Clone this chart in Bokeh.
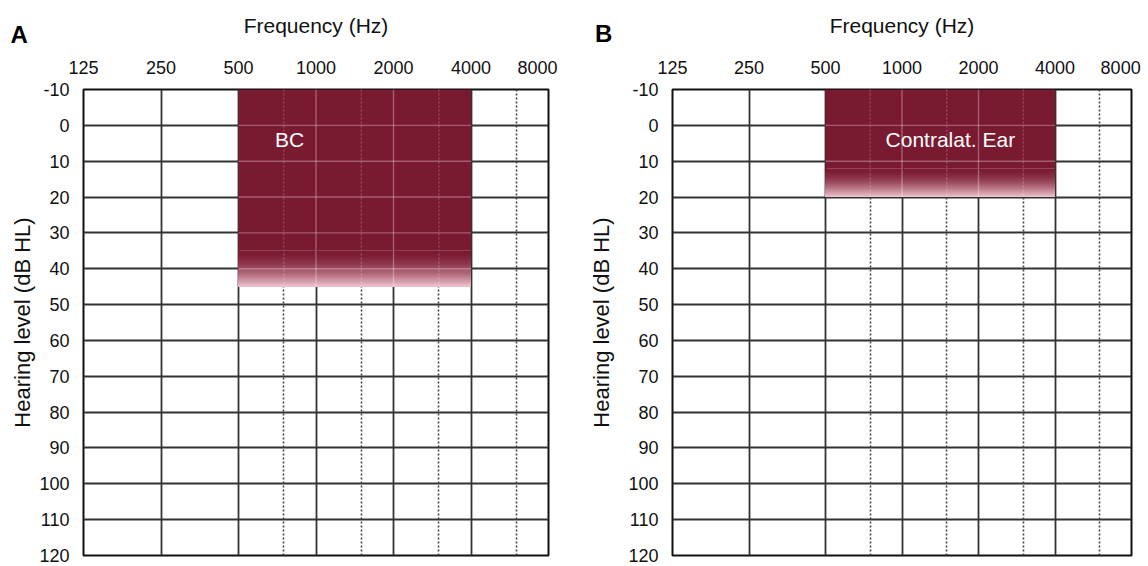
import numpy as np
from bokeh.plotting import figure
from bokeh.layouts import row
from bokeh.models import Range1d, FixedTicker, Grid, Label
from bokeh.embed import file_html
from bokeh.resources import INLINE

# ---- data ----
freqs = [125, 250, 500, 1000, 2000, 4000, 8000]
freq_labels = ["125", "250", "500", "1000", "2000", "4000", "8000"]
label_pos = [125, 250, 500, 1000, 2000, 4000, 7250]   # 8000 label nudged inside
half_octaves = [750, 1500, 3000, 6000]
levels = [-10, 0, 10, 20, 30, 40, 50, 60, 70, 80, 90, 100, 110, 120]
level_labels = ["-10", "0", "10", "20", "30", "40", "50", "60", "70", "80",
                "90", "100", "110", "120"]

panels = ["A", "B"]
letter_freq = [65, 62]
letter_level = [-25.3, -25.6]
box_low = [500, 500]
box_high = [4000, 4000]
box_top = [-10, -10]
box_bottom = [45, 20]
fade_start = [35, 12]
box_text = ["BC", "Contralat. Ear"]
text_freq = [790, 1550]
text_level = [4, 4]

MAROON = np.array([0x7a, 0x1a, 0x31])
PINK = np.array([0xf0, 0xc6, 0xd0])
FONT = "Liberation Sans"


def hexcol(c):
    c = np.clip(np.round(c), 0, 255).astype(int)
    return "#%02x%02x%02x" % tuple(c)


def make_panel(i, width, left, right, ylab_standoff):
    p = figure(width=width, height=566, x_axis_type="log",
               x_range=Range1d(freqs[0], freqs[-1]),
               y_range=Range1d(levels[-1], levels[0]),
               x_axis_location="above", output_backend="svg",
               toolbar_location=None,
               min_border_left=left, min_border_right=right,
               min_border_top=89, min_border_bottom=11)
    p.background_fill_color = "white"
    p.border_fill_color = "white"
    p.outline_line_color = "#111111"
    p.outline_line_width = 2

    p.xgrid.visible = False
    p.ygrid.visible = False
    p.add_layout(Grid(dimension=0, ticker=FixedTicker(ticks=freqs),
                      grid_line_color="#333333", grid_line_width=1.8))
    p.add_layout(Grid(dimension=1, ticker=FixedTicker(ticks=levels),
                      grid_line_color="#333333", grid_line_width=1.8))
    p.add_layout(Grid(dimension=0, ticker=FixedTicker(ticks=half_octaves),
                      grid_line_color="#444444", grid_line_width=1.6,
                      grid_line_dash="2 2"))

    xa = p.xaxis[0]
    xa.ticker = FixedTicker(ticks=label_pos)
    xa.major_label_overrides = {pos: lab for pos, lab in zip(label_pos, freq_labels)}
    xa.axis_label = "Frequency (Hz)"
    xa.axis_label_text_font = FONT
    xa.axis_label_text_font_size = "21px"
    xa.axis_label_text_font_style = "normal"
    xa.axis_label_text_color = "#111111"
    xa.axis_label_standoff = 21
    xa.major_label_text_font = FONT
    xa.major_label_text_font_size = "18px"
    xa.major_label_text_color = "#111111"
    xa.major_label_standoff = 16
    xa.axis_line_color = None
    xa.major_tick_line_color = None
    xa.minor_tick_line_color = None
    xa.major_tick_out = 0
    xa.major_tick_in = 0

    ya = p.yaxis[0]
    ya.ticker = FixedTicker(ticks=levels)
    ya.major_label_overrides = {lv: lab for lv, lab in zip(levels, level_labels)}
    ya.axis_label = "Hearing level (dB HL)"
    ya.axis_label_text_font = FONT
    ya.axis_label_text_font_size = "22px"
    ya.axis_label_text_font_style = "normal"
    ya.axis_label_text_color = "#111111"
    ya.axis_label_standoff = ylab_standoff
    ya.major_label_text_font = FONT
    ya.major_label_text_font_size = "18px"
    ya.major_label_text_color = "#111111"
    ya.major_label_standoff = 14
    ya.axis_line_color = None
    ya.major_tick_line_color = None
    ya.minor_tick_line_color = None
    ya.major_tick_out = 0
    ya.major_tick_in = 0

    lo, hi = box_low[i], box_high[i]
    top, bot, fs = box_top[i], box_bottom[i], fade_start[i]
    p.quad(left=[lo], right=[hi], top=[top], bottom=[fs],
           fill_color=hexcol(MAROON), line_color=None)
    # gradient: overlapping layers, each reaching the box bottom (no seams)
    n = 30
    tops = np.linspace(fs, bot, n + 1)[:-1]
    t = (np.arange(n) + 0.5) / n
    cols = [hexcol(MAROON + (PINK - MAROON) * (tt ** 1.7)) for tt in t]
    p.quad(left=[lo] * n, right=[hi] * n, top=tops, bottom=[bot] * n,
           fill_color=cols, line_color=None)

    vx = [f for f in freqs if lo < f < hi]
    p.segment(x0=vx, x1=vx, y0=[top] * len(vx), y1=[bot] * len(vx),
              line_color="white", line_alpha=0.3, line_width=1.4)
    hy = [l for l in levels if top < l < bot]
    p.segment(x0=[lo] * len(hy), x1=[hi] * len(hy), y0=hy, y1=hy,
              line_color="white", line_alpha=0.3, line_width=1.4)
    dx = [f for f in half_octaves if lo < f < hi]
    p.segment(x0=dx, x1=dx, y0=[top] * len(dx), y1=[bot] * len(dx),
              line_color="white", line_alpha=0.22, line_width=1.4,
              line_dash="2 2")

    p.add_layout(Label(x=text_freq[i], y=text_level[i], text=box_text[i],
                       text_color="white", text_font=FONT,
                       text_font_size="21px", text_align="center",
                       text_baseline="middle"))
    # panel letter: placed in a side panel so it is not clipped to the frame
    p.add_layout(Label(x=letter_freq[i], y=letter_level[i],
                       text=panels[i], text_color="black", text_font=FONT,
                       text_font_size="24px", text_font_style="bold",
                       text_align="left", text_baseline="alphabetic"), "right")
    return p


pa = make_panel(0, 580, 83, 32, 1)
pb = make_panel(1, 568, 92, 12, 11)
layout = row(pa, pb)

open("out.html", "w").write(file_html(layout, INLINE))
